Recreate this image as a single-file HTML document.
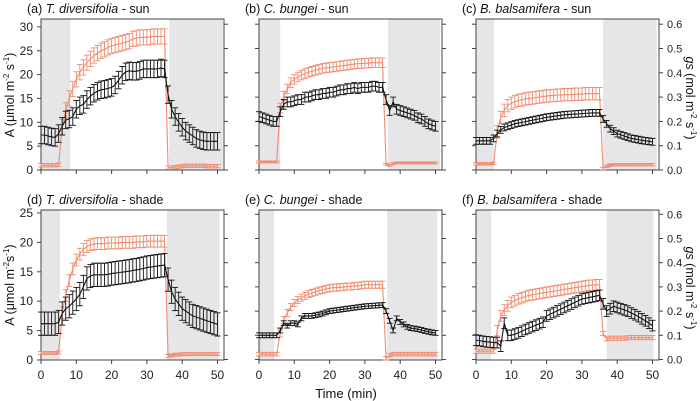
<!DOCTYPE html>
<html><head><meta charset="utf-8"><style>
body{margin:0;background:#fff;}
svg{display:block;font-family:"Liberation Sans",sans-serif;}
</style></head><body>
<svg id="chart" width="700" height="401" viewBox="0 0 700 401"></svg>
<script>
const time=[0,1,2,3,4,5,6,7,8,9,10,11,12,13,14,15,16,17,18,19,20,21,22,23,24,25,26,27,28,29,30,31,32,33,34,35,36,37,38,39,40,41,42,43,44,45,46,47,48,49,50];
const xTicks=[0,10,20,30,40,50];
const aTicksTop=[0,5,10,15,20,25,30];
const aTicksBottom=[0,5,10,15,20,25];
const gsTicks=[0,0.1,0.2,0.3,0.4,0.5,0.6];
const gsTickLabels=["0.0","0.1","0.2","0.3","0.4","0.5","0.6"];
const panelTitles=[["(a) ","T. diversifolia"," - sun"],["(b) ","C. bungei"," - sun"],["(c) ","B. balsamifera"," - sun"],["(d) ","T. diversifolia"," - shade"],["(e) ","C. bungei"," - shade"],["(f) ","B. balsamifera"," - shade"]];
const darkPeriods=[[[0,8.3],[36.3,51.5]],[[0,6],[36.5,51.3]],[[0,5.1],[36,51.2]],[[0,5.4],[35.7,50.6]],[[0,4.3],[36.3,50.5]],[[0,4.3],[37,50.3]]];
// A (orange, left axis) means
const aA=[1,1,1,1,1,1.1,9,12.5,15,17,19,20.5,21.5,22.5,23.3,24,24.5,25,25.3,25.7,26,26.2,26.4,26.6,26.8,27,27.5,27.6,27.8,27.8,27.8,27.9,28,28,28,28,0.5,0.5,0.6,0.7,0.8,0.9,0.9,0.9,0.9,0.9,0.9,0.8,0.8,0.8,0.8];
const bA=[1.7,1.7,1.7,1.7,1.7,1.7,13,15.5,17,18.3,19,19.5,19.9,20.2,20.5,20.7,20.9,21.1,21.3,21.4,21.5,21.6,21.7,21.8,21.9,22,22.1,22.2,22.3,22.3,22.4,22.4,22.5,22.5,22.5,22.5,1.2,1.0,1.3,1.5,1.5,1.5,1.5,1.5,1.5,1.5,1.5,1.5,1.5,1.5,1.5];
const cA=[1.3,1.3,1.3,1.3,1.3,1.4,8,11,12.5,13.5,14,14.3,14.6,14.7,14.9,15,15.1,15.2,15.3,15.4,15.5,15.6,15.6,15.7,15.7,15.8,15.8,15.8,15.9,15.9,15.9,16,16,16,16,16,0.3,0.8,1.0,1.1,1.1,1.1,1.1,1.1,1.1,1.1,1.1,1.1,1.1,1.1,1.1];
const dA=[1.2,1.2,1.2,1.2,1.2,1.3,8,11,13.5,15.5,17,18,18.8,19.3,19.6,19.7,19.8,19.8,19.8,19.9,19.9,19.9,19.9,20,20,20,20,20.1,20.1,20.1,20.2,20.2,20.2,20.2,20.2,20.2,0.7,0.8,0.9,0.9,1.0,1.0,1.0,1.0,1.0,1.0,1.0,1.0,1.0,1.0,1.0];
const eA=[1.0,1.0,1.0,1.0,1.0,1.0,4.5,6.8,8,9,9.7,10.2,10.6,10.9,11.2,11.4,11.6,11.8,11.9,12.1,12.2,12.3,12.3,12.4,12.4,12.5,12.5,12.6,12.6,12.7,12.8,12.8,12.8,12.8,12.8,12.8,0.3,0.8,1.0,1.0,1.0,1.0,1.0,1.0,1.0,1.0,1.0,1.0,1.0,1.0,1.0];
const fA=[1.5,1.5,1.5,1.5,1.5,1.5,5,7.5,8.5,9.2,9.8,10.1,10.4,10.6,10.8,11,11.1,11.2,11.3,11.4,11.5,11.6,11.7,11.8,11.9,12,12.1,12.2,12.3,12.4,12.5,12.6,12.7,12.7,12.8,12.8,4.5,3.6,3.7,3.7,3.7,3.7,3.7,3.8,3.8,3.8,3.8,3.8,3.8,3.8,3.8];
// gs (black, right axis) means
const aG=[0.144,0.144,0.14,0.136,0.134,0.15,0.18,0.206,0.21,0.22,0.25,0.264,0.27,0.29,0.304,0.316,0.324,0.33,0.332,0.336,0.34,0.35,0.37,0.39,0.404,0.408,0.406,0.406,0.41,0.416,0.416,0.416,0.416,0.416,0.42,0.416,0.31,0.25,0.22,0.196,0.176,0.16,0.15,0.14,0.13,0.124,0.12,0.118,0.118,0.118,0.118];
const bG=[0.22,0.215,0.21,0.205,0.2,0.2,0.24,0.27,0.28,0.28,0.285,0.29,0.29,0.3,0.3,0.305,0.31,0.31,0.315,0.315,0.32,0.32,0.325,0.33,0.33,0.335,0.335,0.34,0.335,0.34,0.34,0.34,0.345,0.345,0.34,0.34,0.29,0.245,0.28,0.25,0.245,0.24,0.235,0.23,0.225,0.215,0.21,0.2,0.19,0.185,0.18];
const cG=[0.12,0.12,0.12,0.12,0.12,0.13,0.15,0.165,0.175,0.18,0.185,0.19,0.193,0.196,0.199,0.202,0.205,0.208,0.211,0.214,0.217,0.219,0.221,0.223,0.225,0.227,0.228,0.229,0.23,0.231,0.232,0.233,0.234,0.235,0.235,0.235,0.21,0.19,0.17,0.16,0.15,0.145,0.14,0.135,0.13,0.128,0.125,0.122,0.12,0.118,0.116];
const dG=[0.148,0.148,0.148,0.148,0.148,0.155,0.19,0.21,0.22,0.235,0.25,0.27,0.3,0.335,0.345,0.35,0.35,0.35,0.35,0.352,0.355,0.357,0.359,0.361,0.363,0.365,0.368,0.37,0.373,0.376,0.38,0.382,0.384,0.386,0.388,0.39,0.33,0.28,0.25,0.23,0.21,0.2,0.19,0.18,0.175,0.17,0.165,0.16,0.155,0.15,0.145];
const eG=[0.1,0.1,0.1,0.1,0.1,0.1,0.12,0.15,0.14,0.15,0.15,0.145,0.17,0.18,0.18,0.18,0.183,0.186,0.19,0.195,0.2,0.202,0.204,0.206,0.208,0.21,0.212,0.214,0.216,0.218,0.22,0.221,0.222,0.223,0.224,0.225,0.2,0.16,0.12,0.17,0.155,0.145,0.135,0.13,0.128,0.125,0.122,0.118,0.115,0.112,0.11];
const fG=[0.08,0.078,0.075,0.073,0.072,0.07,0.07,0.055,0.15,0.1,0.1,0.105,0.11,0.117,0.124,0.13,0.136,0.142,0.148,0.154,0.18,0.187,0.194,0.201,0.208,0.215,0.222,0.229,0.236,0.243,0.25,0.253,0.256,0.259,0.262,0.265,0.23,0.2,0.21,0.22,0.215,0.21,0.205,0.2,0.192,0.185,0.177,0.168,0.16,0.15,0.14];
// standard errors (light phase / dark phase)
const aErrLight=[1.6,1.0,1.3,1.0,0.6,0.9];
const aErrDark=[0.35,0.2,0.25,0.25,0.3,0.35];
const gErr=[0.036,0.02,0.014,0.048,0.01,0.022];
const seriesA=[aA,bA,cA,dA,eA,fA];
const seriesG=[aG,bG,cG,dG,eG,fG];

const svg=document.getElementById('chart');
const NS='http://www.w3.org/2000/svg';
function mk(tag,attrs,parent){const e=document.createElementNS(NS,tag);for(const k in attrs)e.setAttribute(k,attrs[k]);(parent||svg).appendChild(e);return e;}
const ORANGE='#f28b6e',BLACK='#111',AX='#444';
const x0s=[41,259,476];
for(let p=0;p<6;p++){
  const row=p<3?0:1,col=p%3,x0=x0s[col];
  const top=row?210:19,bot=row?360:170;
  const aScale=row?5.88:4.77,gScale=row?242:243,gBase=row?359.5:170;
  const X=t=>x0+t*3.53;
  const YA=v=>bot-v*aScale;
  const YG=v=>gBase-v*gScale;
  const g=mk('g',{});
  
  
  darkPeriods[p].forEach(d=>{const r=mk('rect',{x:X(d[0]),y:top,width:X(d[1])-X(d[0]),height:bot-top,fill:'#e6e6e9'},g);
    });
  const fr=mk('rect',{x:x0,y:top,width:183,height:bot-top,fill:'none',stroke:AX,'stroke-width':1},g);
  
  xTicks.forEach(t=>{mk('line',{x1:X(t),x2:X(t),y1:bot,y2:bot+4,stroke:AX},g);
    if(row){const tx=mk('text',{x:X(t),y:bot+19,'font-size':12,'text-anchor':'middle',fill:'#222'},g);tx.textContent=t;
      }});
  if(col===0){const ticks=row?aTicksBottom:aTicksTop;ticks.forEach(v=>{mk('line',{x1:x0-4,x2:x0,y1:YA(v),y2:YA(v),stroke:AX},g);
      const tx=mk('text',{x:x0-8,y:YA(v)+4,'font-size':12,'text-anchor':'end',fill:'#222'},g);tx.textContent=v;
      });}
  else gsTicks.forEach(v=>mk('line',{x1:x0-4,x2:x0,y1:YG(v),y2:YG(v),stroke:AX},g));
  gsTicks.forEach((v,i)=>{mk('line',{x1:x0+183,x2:x0+187,y1:YG(v),y2:YG(v),stroke:AX},g);
    if(col===2){const tx=mk('text',{x:x0+191,y:YG(v)+4,'font-size':11,fill:'#222'},g);tx.textContent=gsTickLabels[i];
      }});
  const dp=darkPeriods[p];
  const isDark=t=>(t<=dp[0][1]-0.5&&t<6)||t>=dp[1][0];
  function draw(vals,Y,errFn,color,name){
    const sg=mk('g',{},g);
    vals.forEach((v,i)=>{const x=X(time[i]);const err=errFn(time[i]);
      mk('line',{x1:x,x2:x,y1:Y(v-err),y2:Y(v+err),stroke:color,'stroke-width':0.9},sg);
      mk('line',{x1:x-3,x2:x+3,y1:Y(v-err),y2:Y(v-err),stroke:color,'stroke-width':0.9},sg);
      mk('line',{x1:x-3,x2:x+3,y1:Y(v+err),y2:Y(v+err),stroke:color,'stroke-width':0.9},sg);});
    mk('polyline',{points:vals.map((v,i)=>X(time[i])+','+Y(v)).join(' '),fill:'none',stroke:color,'stroke-width':1.1},sg);
  }
  draw(seriesA[p],YA,t=>(t<=5||t>=36)?aErrDark[p]:aErrLight[p],ORANGE,'a-series');
  draw(seriesG[p],YG,t=>gErr[p],BLACK,'gs-series');
  const tt=mk('text',{x:x0-14,y:top-6,'font-size':12.5,fill:'#111'},g);
  
  const t0=mk('tspan',{},tt);t0.textContent=panelTitles[p][0];
  const t1=mk('tspan',{'font-style':'italic'},tt);t1.textContent=panelTitles[p][1];
  const t2=mk('tspan',{},tt);t2.textContent=panelTitles[p][2];
}
function ylab(x,y,rot,parts,name){const t=mk('text',{transform:`translate(${x},${y}) rotate(${rot})`,'font-size':12.5,'text-anchor':'middle',fill:'#111'});
  
  parts.forEach(p=>{const s=mk('tspan',p[1],t);s.textContent=p[0];});}
ylab(14,95,-90,[["A (μmol m",{}],["-2",{'font-size':8,dy:-5}],[" s",{dy:5}],["-1",{'font-size':8,dy:-5}],[")",{dy:5}]],'y-axis-title-top');
ylab(14,285,-90,[["A (μmol m",{}],["-2",{'font-size':8,dy:-5}],["s",{dy:5}],["-1",{'font-size':8,dy:-5}],[")",{dy:5}]],'y-axis-title-bottom');
ylab(686,98,90,[["gs",{'font-style':'italic'}],[" (mol m",{}],["-2",{'font-size':8,dy:-5}],[" s",{dy:5}],["-1",{'font-size':8,dy:-5}],[")",{dy:5}]],'gs-axis-title-top');
ylab(686,288,90,[["gs",{'font-style':'italic'}],[" (mol m",{}],["-2",{'font-size':8,dy:-5}],[" s",{dy:5}],["-1",{'font-size':8,dy:-5}],[")",{dy:5}]],'gs-axis-title-bottom');
const xt=mk('text',{x:346,y:398,'font-size':13,'text-anchor':'middle',fill:'#111'});xt.textContent='Time (min)';


</script>
</body></html>
